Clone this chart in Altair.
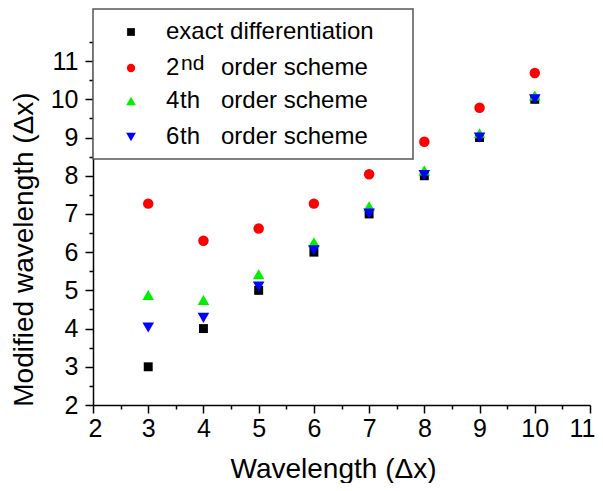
import altair as alt
import pandas as pd

# ---- data ----
wavelength = [3, 4, 5, 6, 7, 8, 9, 10]
exact = [3, 4, 5, 6, 7, 8, 9, 10]
second = [7.27, 6.30, 6.62, 7.27, 8.04, 8.89, 9.78, 10.69]
fourth = [4.88, 4.75, 5.42, 6.26, 7.20, 8.14, 9.11, 10.10]
sixth = [4.03, 4.28, 5.10, 6.05, 7.01, 8.02, 9.00, 10.00]

x_ticks = [2, 2.5, 3, 3.5, 4, 4.5, 5, 5.5, 6, 6.5, 7, 7.5, 8, 8.5, 9, 9.5, 10, 10.5, 11]
y_ticks = [2, 2.5, 3, 3.5, 4, 4.5, 5, 5.5, 6, 6.5, 7, 7.5, 8, 8.5, 9, 9.5, 10, 10.5, 11, 11.5]

legend_main = ["exact differentiation", "2", "4", "6"]
legend_sup = ["", "nd", "th", "th"]
legend_rest = ["", "order scheme", "order scheme", "order scheme"]

FONT = "Liberation Sans"
W, H = 497, 363

series = [
    (exact, "square", "#000000", 80),
    (second, "circle", "#ff0000", 110),
    (fourth, "triangle-up", "#00ee00", 135),
    (sixth, "triangle-down", "#0000ff", 135),
]

major_or_minor = {"condition": {"test": "datum.value % 1 === 0", "value": 8}, "value": 4}
int_labels = "datum.value % 1 === 0 ? format(datum.value, 'd') : ''"

x_axis = alt.Axis(
    values=x_ticks, title="Wavelength (Δx)", grid=False,
    labelExpr=int_labels,
    labelFontSize=25, labelFont=FONT, labelColor="black", labelPadding=3,
    labelFlush=True, labelFlushOffset=5, labelOverlap=False,
    tickSize=major_or_minor, tickColor="black", tickWidth=1.5,
    domainColor="black", domainWidth=1.5,
    titleFont=FONT, titleFontSize=28, titleFontWeight="normal", titleColor="black",
    titleX=240, titleY=72, titleBaseline="alphabetic", titleAlign="center",
)
y_axis = alt.Axis(
    values=y_ticks, title="Modified wavelength (Δx)", grid=False,
    labelExpr=int_labels,
    labelFontSize=25, labelFont=FONT, labelColor="black", labelPadding=7,
    labelFlush=False, labelOverlap=False,
    tickSize=major_or_minor, tickColor="black", tickWidth=1.5,
    domainColor="black", domainWidth=1.5,
    titleFont=FONT, titleFontSize=28, titleFontWeight="normal", titleColor="black",
    titleX=-61, titleY=207, titleBaseline="alphabetic", titleAlign="center", titleAngle=270,
)

xs = alt.Scale(domain=[2, 11], nice=False, zero=False)
ys = alt.Scale(domain=[2, 11.5], nice=False, zero=False)

layers = []
for vals, shape, color, size in series:
    df = pd.DataFrame({"x": wavelength, "y": vals})
    layers.append(
        alt.Chart(df).mark_point(filled=True, shape=shape, color=color, size=size, opacity=1).encode(
            x=alt.X("x:Q", scale=xs, axis=x_axis),
            y=alt.Y("y:Q", scale=ys, axis=y_axis),
        )
    )

# ---- legend box (drawn manually for the superscripts) ----
box = alt.Chart(pd.DataFrame({"a": [0]})).mark_rect(
    fill="white", stroke="#555555", strokeWidth=1.5
).encode(x=alt.value(0), x2=alt.value(320), y=alt.value(-33), y2=alt.value(117))
layers.append(box)

row_y = [-10, 26, 59, 95]
for i, (vals, shape, color, size) in enumerate(series):
    d = pd.DataFrame({"main": [legend_main[i]], "sup": [legend_sup[i]], "rest": [legend_rest[i]]})
    base = alt.Chart(d)
    sym_size = {"square": 60, "circle": 70, "triangle-up": 95, "triangle-down": 95}[shape]
    layers.append(base.mark_point(filled=True, shape=shape, color=color, size=sym_size, opacity=1).encode(
        x=alt.value(38), y=alt.value(row_y[i])))
    layers.append(base.mark_text(align="left", baseline="middle", font=FONT, fontSize=24, color="black").encode(
        x=alt.value(73), y=alt.value(row_y[i]), text="main:N"))
    if legend_sup[i]:
        is_nd = legend_sup[i] == "nd"
        layers.append(base.mark_text(align="left", baseline="middle", font=FONT,
                                     fontSize=21 if is_nd else 24, color="black",
                                     dy=-4 if is_nd else 0).encode(
            x=alt.value(88 if is_nd else 87), y=alt.value(row_y[i]), text="sup:N"))
        layers.append(base.mark_text(align="left", baseline="middle", font=FONT, fontSize=24, color="black").encode(
            x=alt.value(128), y=alt.value(row_y[i]), text="rest:N"))

chart = alt.layer(*layers).properties(
    width=W, height=H,
    autosize=alt.AutoSizeParams(type="none"),
    padding={"left": 85, "top": 34, "right": 5, "bottom": 78},
    background="white",
).configure_view(stroke=None)

chart.save("out.html", embed_options={"renderer": "svg", "actions": False})
